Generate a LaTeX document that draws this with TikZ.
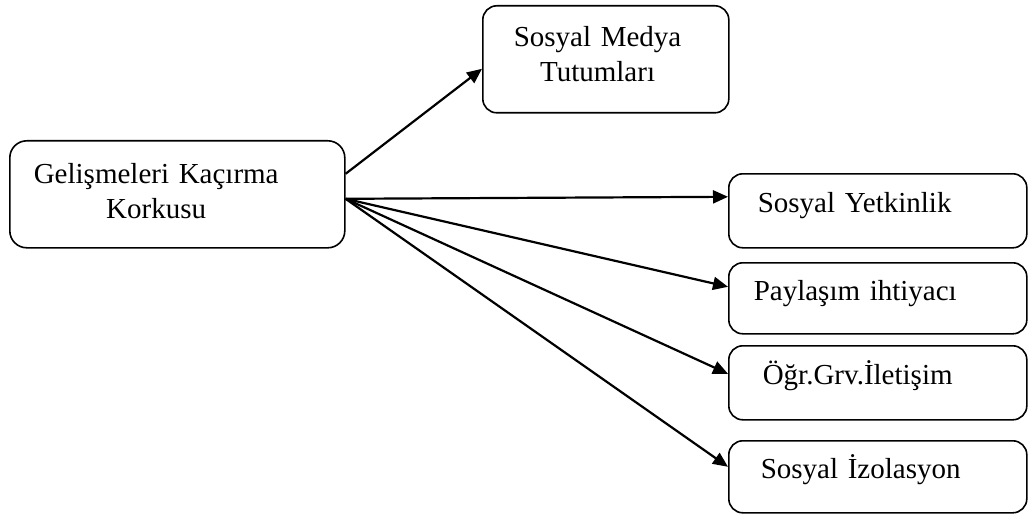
\documentclass[tikz,border=0pt]{standalone}
\usepackage{fontspec}
\setmainfont{Liberation Serif}
\usetikzlibrary{arrows.meta,positioning}
\tikzset{
  card/.style={draw=black, line width=1.6pt, rounded corners=14pt, align=left, inner ysep=0pt, anchor=north west, font=\fontsize{29}{35}\selectfont, fill=none},
  flow/.style={-{Triangle[length=15pt,width=13pt]}, line width=2.2pt, draw=black}
}

\begin{document}
\begin{tikzpicture}[x=1pt,y=-1pt]
  \useasboundingbox (0,0) rectangle (1028,516);
  \node[card, rounded corners=17pt, inner xsep=24pt, text width=287pt, text height=43pt, text depth=64pt] (fomo) at (9,140) {\begin{tabular}[t]{@{}c@{}}Gelişmeleri Kaçırma\\Korkusu\end{tabular}};
  \node[card, inner xsep=31pt, text width=184pt, text height=41pt, text depth=66pt] (smt) at (482,5) {\begin{tabular}[t]{@{}c@{}}Sosyal Medya\\Tutumları\end{tabular}};
  \node[card, inner xsep=29pt, text width=240pt, text height=39pt, text depth=35pt] (sy) at (728,173) {Sosyal Yetkinlik};
  \node[card, inner xsep=25pt, text width=248pt, text height=38pt, text depth=33pt] (pay) at (728,262) {Paylaşım ihtiyacı};
  \node[card, inner xsep=34pt, text width=230pt, text height=39pt, text depth=35pt] (ogr) at (728,345) {Öğr.Grv.İletişim};
  \node[card, inner xsep=32pt, text width=234pt, text height=38pt, text depth=34pt] (iz) at (728,440) {Sosyal İzolasyon};

  \coordinate (hub) at ([yshift=-4.5pt]fomo.east);
  \draw[flow] ([yshift=20.5pt]fomo.east) -- ([yshift=-9.5pt]smt.west);
  \draw[flow] (hub) -- ([yshift=14pt]sy.west);
  \draw[flow] (hub) -- ([yshift=11.5pt]pay.west);
  \draw[flow] (hub) -- ([yshift=9pt]ogr.west);
  \draw[flow] (hub) -- ([yshift=10pt]iz.west);
\end{tikzpicture}
\end{document}
